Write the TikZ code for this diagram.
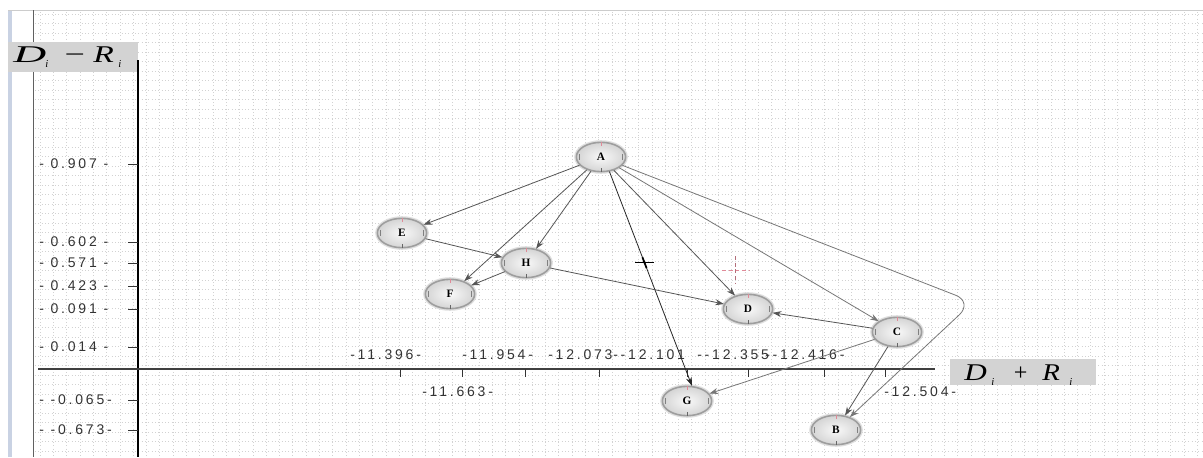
\documentclass[tikz,border=0pt]{standalone}
\usepackage{fontspec}
\setmainfont{Liberation Serif}
\newfontfamily\tickfont[LetterSpace=20]{Liberation Sans}
\usetikzlibrary{arrows.meta,shapes.geometric,calc}

\definecolor{gridc}{HTML}{D2D2D2}
\definecolor{edgec}{HTML}{555555}
\definecolor{nodefill}{HTML}{D4D4D4}
\definecolor{nodeedge}{HTML}{9E9E9E}
\definecolor{labbox}{HTML}{D3D3D3}
\definecolor{ticktxt}{HTML}{333333}
\definecolor{strip}{HTML}{C9D2E3}
\definecolor{markred}{HTML}{E08A98}

\tikzset{
  vnode/.style={ellipse, minimum width=37pt, minimum height=22pt, inner sep=0pt,
    draw=nodeedge, line width=1.2pt, inner color=white!95!gray, outer color=nodefill,
    preaction={draw=gray!25, line width=3.2pt},
    font=\fontsize{8.5}{9}\selectfont\bfseries},
  link/.style={draw=edgec, line width=0.6pt, -{Stealth[length=6.5pt,width=4.5pt]}},
  lightlink/.style={link, draw=edgec!80},
  tlab/.style={font=\tickfont\fontsize{10.5}{11}\selectfont, text=ticktxt, inner sep=0pt},
  bigtxt/.style={inner sep=0pt, anchor=base west, font=\fontsize{18}{18}\selectfont\itshape},
  subtxt/.style={inner sep=0pt, anchor=base west, font=\fontsize{8}{8}\selectfont\itshape},
  gridline/.style={gridc, line width=0.45pt, dash pattern=on 0.5pt off 2pt},
}

\begin{document}
\begin{tikzpicture}[x=0.75pt,y=-0.75pt]
\useasboundingbox (0,0) rectangle (1203,457);
\fill[white] (0,0) rectangle (1203,457);

% grid
\foreach \gx in {40,53.3,...,1203} \draw[gridline] (\gx,12) -- (\gx,457);
\foreach \gy in {14,23.5,...,457} \draw[gridline] (35,\gy) -- (1203,\gy);

% frame lines
\fill[strip] (8,10) rectangle (12,457);
\draw[gray!40, line width=0.6pt] (8,10) -- (1203,10);
\draw[gray!75!black, line width=0.7pt] (33,10) -- (33,457);

% axis label boxes
\node[fill=labbox, inner sep=0pt, minimum width=97.5pt, minimum height=22.5pt, anchor=north west] (ylab) at (8,42) {};
\node[bigtxt] (yD) at (13,62) {\scalebox{1.9}[1]{D}};
\node[subtxt] (yi1) at (45,67) {i};
\node[bigtxt] (ym) at (62,62) {\scalebox{1.5}[1]{−}};
\node[bigtxt] (yR) at (93,62) {\scalebox{1.4}[1]{R}};
\node[subtxt] (yi2) at (118,67) {i};

\node[fill=labbox, inner sep=0pt, minimum width=109pt, minimum height=19.5pt, anchor=north west] (xlab) at (950,359) {};
\node[bigtxt] (xD) at (964,380) {\scalebox{1.3}[1]{D}};
\node[subtxt] (xi1) at (991,385) {i};
\node[bigtxt] (xp) at (1012,380) {+};
\node[bigtxt] (xR) at (1042,380) {\scalebox{1.2}[1]{R}};
\node[subtxt] (xi2) at (1069,385) {i};

% axes
\draw[black, line width=1.1pt] (138,60) -- (138,457);
\draw[black!75, line width=0.9pt] (38,369) -- (935,369);

% y ticks and labels
\foreach \yy/\tx in {164/{- 0.907 -},242/{- 0.602 -},263/{- 0.571 -},286/{- 0.423 -},309/{- 0.091 -},347/{- 0.014 -},400/{- -0.065-},430/{- -0.673-}}{
  \draw[black!80, line width=0.7pt] (128,\yy) -- (138,\yy);
  \node[tlab, anchor=west] at (39,\yy) {\tx};
}

% x ticks
\foreach \xx in {400,462,525,599,687,748,824,885}
  \draw[black!80, line width=0.7pt] (\xx,369) -- (\xx,377);

% x labels
\node[tlab, anchor=west] at (350,355) {-11.396-};
\node[tlab, anchor=west] at (462,355) {-11.954-};
\node[tlab, anchor=west] at (548,355) {-12.073};
\node[tlab, anchor=west] at (613,355) {--12.101};
\node[tlab, anchor=west] at (697,355) {--12.355};
\node[tlab, anchor=west] at (765,355) {--12.416-};
\node[tlab, anchor=west] at (422,392) {-11.663-};
\node[tlab, anchor=west] at (884,392) {-12.504-};

% nodes
\node[vnode] (A) at (601,157) {A};
\node[vnode] (E) at (402,233) {E};
\node[vnode] (H) at (526,263) {H};
\node[vnode] (F) at (450,294) {F};
\node[vnode] (D) at (748,309) {D};
\node[vnode] (C) at (897,332) {C};
\node[vnode] (G) at (687,401) {G};
\node[vnode] (B) at (836,430) {B};

\foreach \n in {A,E,H,F,D,C,G,B}{
  \draw[markred, line width=0.6pt] (\n.north) -- ++(0,4);
  \draw[black!60, line width=0.5pt] (\n.south) -- ++(0,-4);
  \draw[black!50, line width=0.5pt] ([xshift=-3pt]\n.east) ++(0,-3) -- ++(0,6);
  \draw[black!50, line width=0.5pt] ([xshift=3pt]\n.west) ++(0,-3) -- ++(0,6);
}

% connectors
\coordinate (bendAB) at (973,302);
\draw[link] (A) -- (E);
\draw[link] (A) -- (F);
\draw[link] (A) -- (H);
\draw[link, draw=black!85] (A.-60) -- (G.72);
\draw[link] (A) -- (D);
\draw[lightlink] (A) -- (C);
\draw[lightlink, rounded corners=14pt] (A) -- (bendAB) -- (B);
\draw[link] (E) -- (H);
\draw[link] (H) -- (F);
\draw[link] (H) -- (D);
\draw[link] (C) -- (D);
\draw[lightlink] (C) -- (G);
\draw[link] (C) -- (B);

% markers
\coordinate (cross) at ($(A.-60)!0.424!(G.72)$);
\draw[black, line width=1pt] ([xshift=-7pt]cross) -- ([xshift=7pt]cross);
\draw[black, line width=1.3pt] ($(A.-60)!0.40!(G.72)$) -- ($(A.-60)!0.45!(G.72)$);
\draw[markred, line width=0.6pt, dash pattern=on 3pt off 2pt] (722,270) -- (749,270);
\draw[markred!80!black, line width=0.6pt, dash pattern=on 3pt off 2pt] (735,256) -- (735,284);
\end{tikzpicture}
\end{document}
